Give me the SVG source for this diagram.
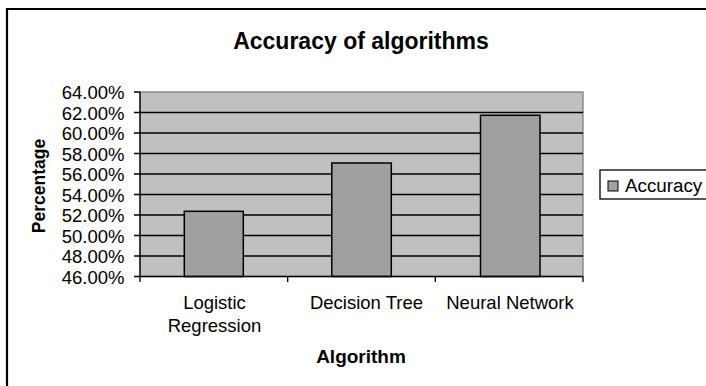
<svg xmlns="http://www.w3.org/2000/svg" width="706" height="386" viewBox="0 0 706 386">
<style>
.t{font-family:"Liberation Sans",Arial,sans-serif;fill:#000}
.yl{font-size:18.5px;text-anchor:end}
.xl{font-size:18.5px;text-anchor:middle}
.grid{stroke:#000;stroke-width:1.3}
.bar{fill:#a0a0a0;stroke:#000;stroke-width:1.5}
.tick{stroke:#000;stroke-width:1.3}
</style>
<rect width="706" height="386" fill="#fff"/>
<path d="M7,386 V9 H706" fill="none" stroke="#000" stroke-width="2.2"/>
<text class="t" x="361" y="49" font-size="23" font-weight="bold" text-anchor="middle">Accuracy of algorithms</text>
<g id="plot">
<rect x="140" y="92" width="443" height="184.5" fill="#c0c0c0" stroke="#808080" stroke-width="1.3"/>
</g>
<g id="gridlines">
<line class="grid" x1="140" y1="112.5" x2="583" y2="112.5"/>
<line class="grid" x1="140" y1="133" x2="583" y2="133"/>
<line class="grid" x1="140" y1="153.5" x2="583" y2="153.5"/>
<line class="grid" x1="140" y1="174" x2="583" y2="174"/>
<line class="grid" x1="140" y1="194.5" x2="583" y2="194.5"/>
<line class="grid" x1="140" y1="215" x2="583" y2="215"/>
<line class="grid" x1="140" y1="235.5" x2="583" y2="235.5"/>
<line class="grid" x1="140" y1="256" x2="583" y2="256"/>
</g>
<g id="bars">
<rect id="bar-logistic" class="bar" x="184.3" y="211.3" width="59" height="65.2"/>
<rect id="bar-decision" class="bar" x="331.8" y="163" width="59.5" height="113.5"/>
<rect id="bar-neural" class="bar" x="480.5" y="115.3" width="59.5" height="161.2"/>
</g>
<g id="axes">
<line class="tick" x1="140" y1="92" x2="140" y2="276.5"/>
<line class="tick" x1="140" y1="276.5" x2="583" y2="276.5"/>
<path class="tick" fill="none" d="M134,92H140M134,112.5H140M134,133H140M134,153.5H140M134,174H140M134,194.5H140M134,215H140M134,235.5H140M134,256H140M134,276.5H140"/>
<path class="tick" fill="none" d="M140,276.5V282M287.7,276.5V282M435.3,276.5V282M583,276.5V282"/>
</g>
<g id="y-labels" class="t yl">
<text x="124.5" y="99.3">64.00%</text>
<text x="124.5" y="119.8">62.00%</text>
<text x="124.5" y="140.3">60.00%</text>
<text x="124.5" y="160.8">58.00%</text>
<text x="124.5" y="181.3">56.00%</text>
<text x="124.5" y="201.8">54.00%</text>
<text x="124.5" y="222.3">52.00%</text>
<text x="124.5" y="242.8">50.00%</text>
<text x="124.5" y="263.3">48.00%</text>
<text x="124.5" y="283.8">46.00%</text>
</g>
<g id="x-labels" class="t xl">
<text x="214.5" y="309">Logistic</text>
<text x="214.5" y="332">Regression</text>
<text x="366.5" y="309">Decision Tree</text>
<text x="510" y="309">Neural Network</text>
</g>
<text class="t" transform="translate(45,186) rotate(-90)" font-size="17.5" font-weight="bold" text-anchor="middle">Percentage</text>
<text class="t" x="361" y="363" font-size="19" font-weight="bold" text-anchor="middle">Algorithm</text>
<g id="legend">
<rect x="600" y="170" width="110" height="29" fill="#fff" stroke="#000" stroke-width="1.3"/>
<rect x="608" y="181" width="10" height="10" fill="#a0a0a0" stroke="#000" stroke-width="1"/>
<text class="t" x="625" y="192" font-size="18.8">Accuracy</text>
</g>
</svg>
